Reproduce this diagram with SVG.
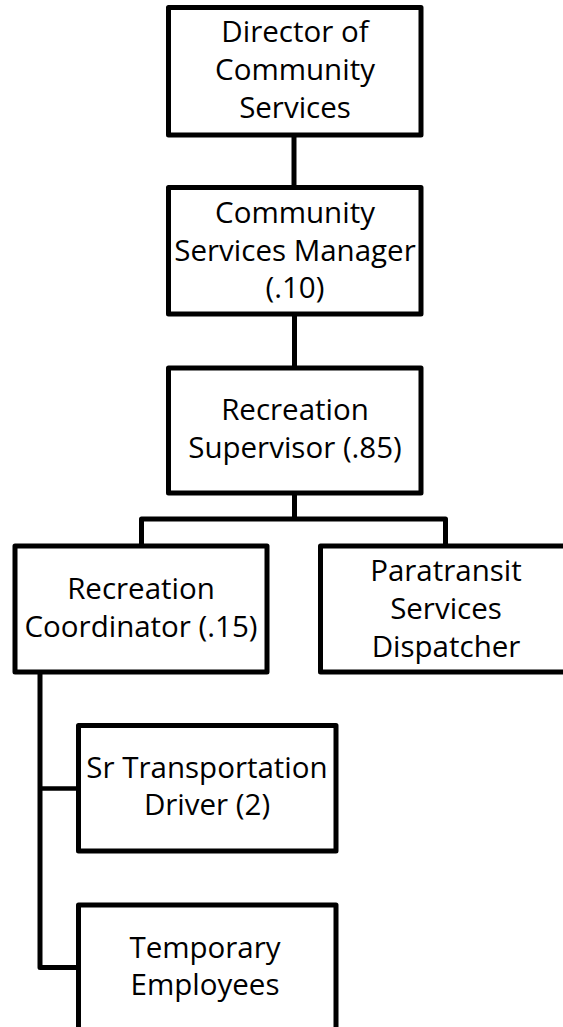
<svg xmlns="http://www.w3.org/2000/svg" width="563" height="1027" viewBox="0 0 563 1027">
  <style>
    .box { fill: #ffffff; stroke: #000000; stroke-width: 5; stroke-linejoin: round; }
    .link { fill: none; stroke: #000000; stroke-width: 5; stroke-linejoin: round; }
    .label { font-family: "Open Sans", "Noto Sans", sans-serif; font-size: 29.5px; fill: #000000; text-anchor: middle; }
  </style>
  <rect width="563" height="1027" fill="#ffffff"/>

  <!-- reporting lines -->
  <g id="connectors">
    <path class="link" d="M294 135 V187.5"/>
    <path class="link" d="M294.5 314 V368"/>
    <path class="link" d="M294.5 493 V519 M141.5 546 V519 H445.5 V546"/>
    <path class="link" d="M40 672 V967.5 H78.5"/>
    <path class="link" d="M40 788.5 H78.5" style="stroke-width:4.5"/>
  </g>

  <g id="director">
    <rect class="box" x="168.5" y="7.5" width="252.5" height="127.5"/>
    <text class="label" x="295" y="42">Director of</text>
    <text class="label" x="295" y="80">Community</text>
    <text class="label" x="295" y="118">Services</text>
  </g>

  <g id="cs-manager">
    <rect class="box" x="168.5" y="187.5" width="252.5" height="126.5"/>
    <text class="label" x="295" y="223">Community</text>
    <text class="label" x="295" y="261">Services Manager</text>
    <text class="label" x="295" y="298">(.10)</text>
  </g>

  <g id="rec-supervisor">
    <rect class="box" x="168.5" y="368" width="252.5" height="125"/>
    <text class="label" x="295" y="420">Recreation</text>
    <text class="label" x="295" y="458">Supervisor (.85)</text>
  </g>

  <g id="rec-coordinator">
    <rect class="box" x="15" y="546" width="252" height="126"/>
    <text class="label" x="141" y="599">Recreation</text>
    <text class="label" x="141" y="637">Coordinator (.15)</text>
  </g>

  <g id="paratransit">
    <rect class="box" x="320.5" y="546" width="252" height="126"/>
    <text class="label" x="446" y="581">Paratransit</text>
    <text class="label" x="446" y="619">Services</text>
    <text class="label" x="446" y="657">Dispatcher</text>
  </g>

  <g id="sr-driver">
    <rect class="box" x="78.5" y="725.5" width="257.5" height="125.5"/>
    <text class="label" x="207" y="778">Sr Transportation</text>
    <text class="label" x="207" y="815">Driver (2)</text>
  </g>

  <g id="temporary">
    <rect class="box" x="78.5" y="905" width="257.5" height="140"/>
    <text class="label" x="205" y="958">Temporary</text>
    <text class="label" x="205" y="995">Employees</text>
  </g>
</svg>
